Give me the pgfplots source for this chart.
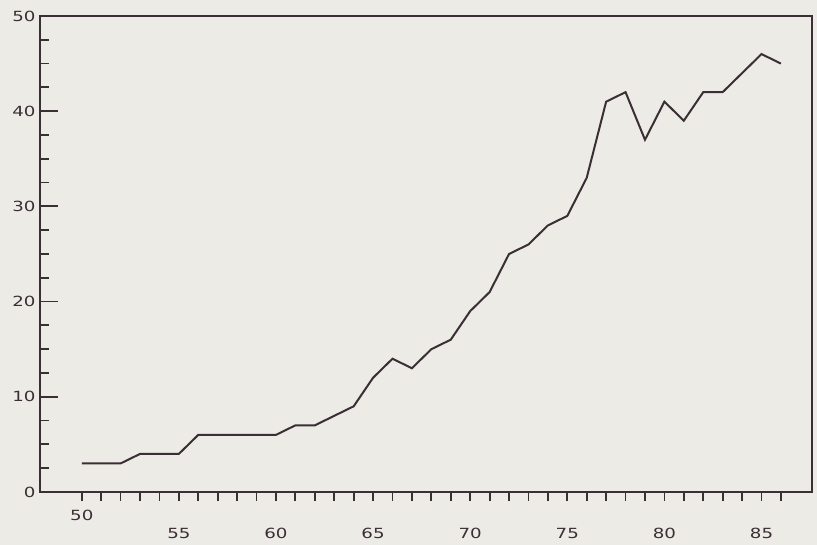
\documentclass[border=0pt]{standalone}
\usepackage{pgfplots}
\pgfplotsset{compat=1.18}
\usepackage{fontspec}
\setmainfont{DejaVu Sans}
\newfontfamily\plotfont[FakeStretch=1.3]{DejaVu Sans}
\definecolor{bg}{HTML}{ECEBE6}
\definecolor{ink}{HTML}{3A2F34}
\begin{document}
\begin{tikzpicture}[x=1pt,y=1pt]
\fill[bg] (-40,-53) rectangle (777,492);
\path[use as bounding box] (-40,-53) rectangle (777,492);
\begin{axis}[
  at={(0,0)}, anchor=origin,
  scale only axis, width=772pt, height=476pt,
  xmin=47.85, xmax=87.6, ymin=0, ymax=50,
  axis line style={ink, line width=2.2pt},
  xtick={55,60,65,70,75,80,85},
  extra x ticks={50},
  extra x tick style={xticklabel style={yshift=18pt}},
  minor xtick={50,51,52,53,54,55,56,57,58,59,60,61,62,63,64,65,66,67,68,69,70,71,72,73,74,75,76,77,78,79,80,81,82,83,84,85,86},
  ytick={0,10,20,30,40,50},
  minor ytick={2.5,5,7.5,12.5,15,17.5,22.5,25,27.5,32.5,35,37.5,42.5,45,47.5},
  xtick pos=bottom, ytick pos=left,
  xtick align=outside, ytick align=inside,
  major tick length=18pt, minor tick length=9pt,
  major x tick style={draw=none},
  every tick/.style={ink, line width=1.8pt},
  xticklabel style={font=\plotfont\fontsize{14}{14}\selectfont, text=ink, yshift=-15pt},
  yticklabel style={font=\plotfont\fontsize{14}{14}\selectfont, text=ink, xshift=-1pt},
  /pgf/number format/assume math mode=true,
  scaled ticks=false,
  clip=false,
]
\addplot[ink, line width=2pt] coordinates {
(50,3) (51,3) (52,3) (53,4) (54,4) (55,4) (56,6) (57,6) (58,6) (59,6) (60,6)
(61,7) (62,7) (63,8) (64,9) (65,12) (66,14) (67,13) (68,15) (69,16) (70,19)
(71,21) (72,25) (73,26) (74,28) (75,29) (76,33) (77,41) (78,42) (79,37) (80,41)
(81,39) (82,42) (83,42) (84,44) (85,46) (86,45)
};
\end{axis}
\end{tikzpicture}
\end{document}
